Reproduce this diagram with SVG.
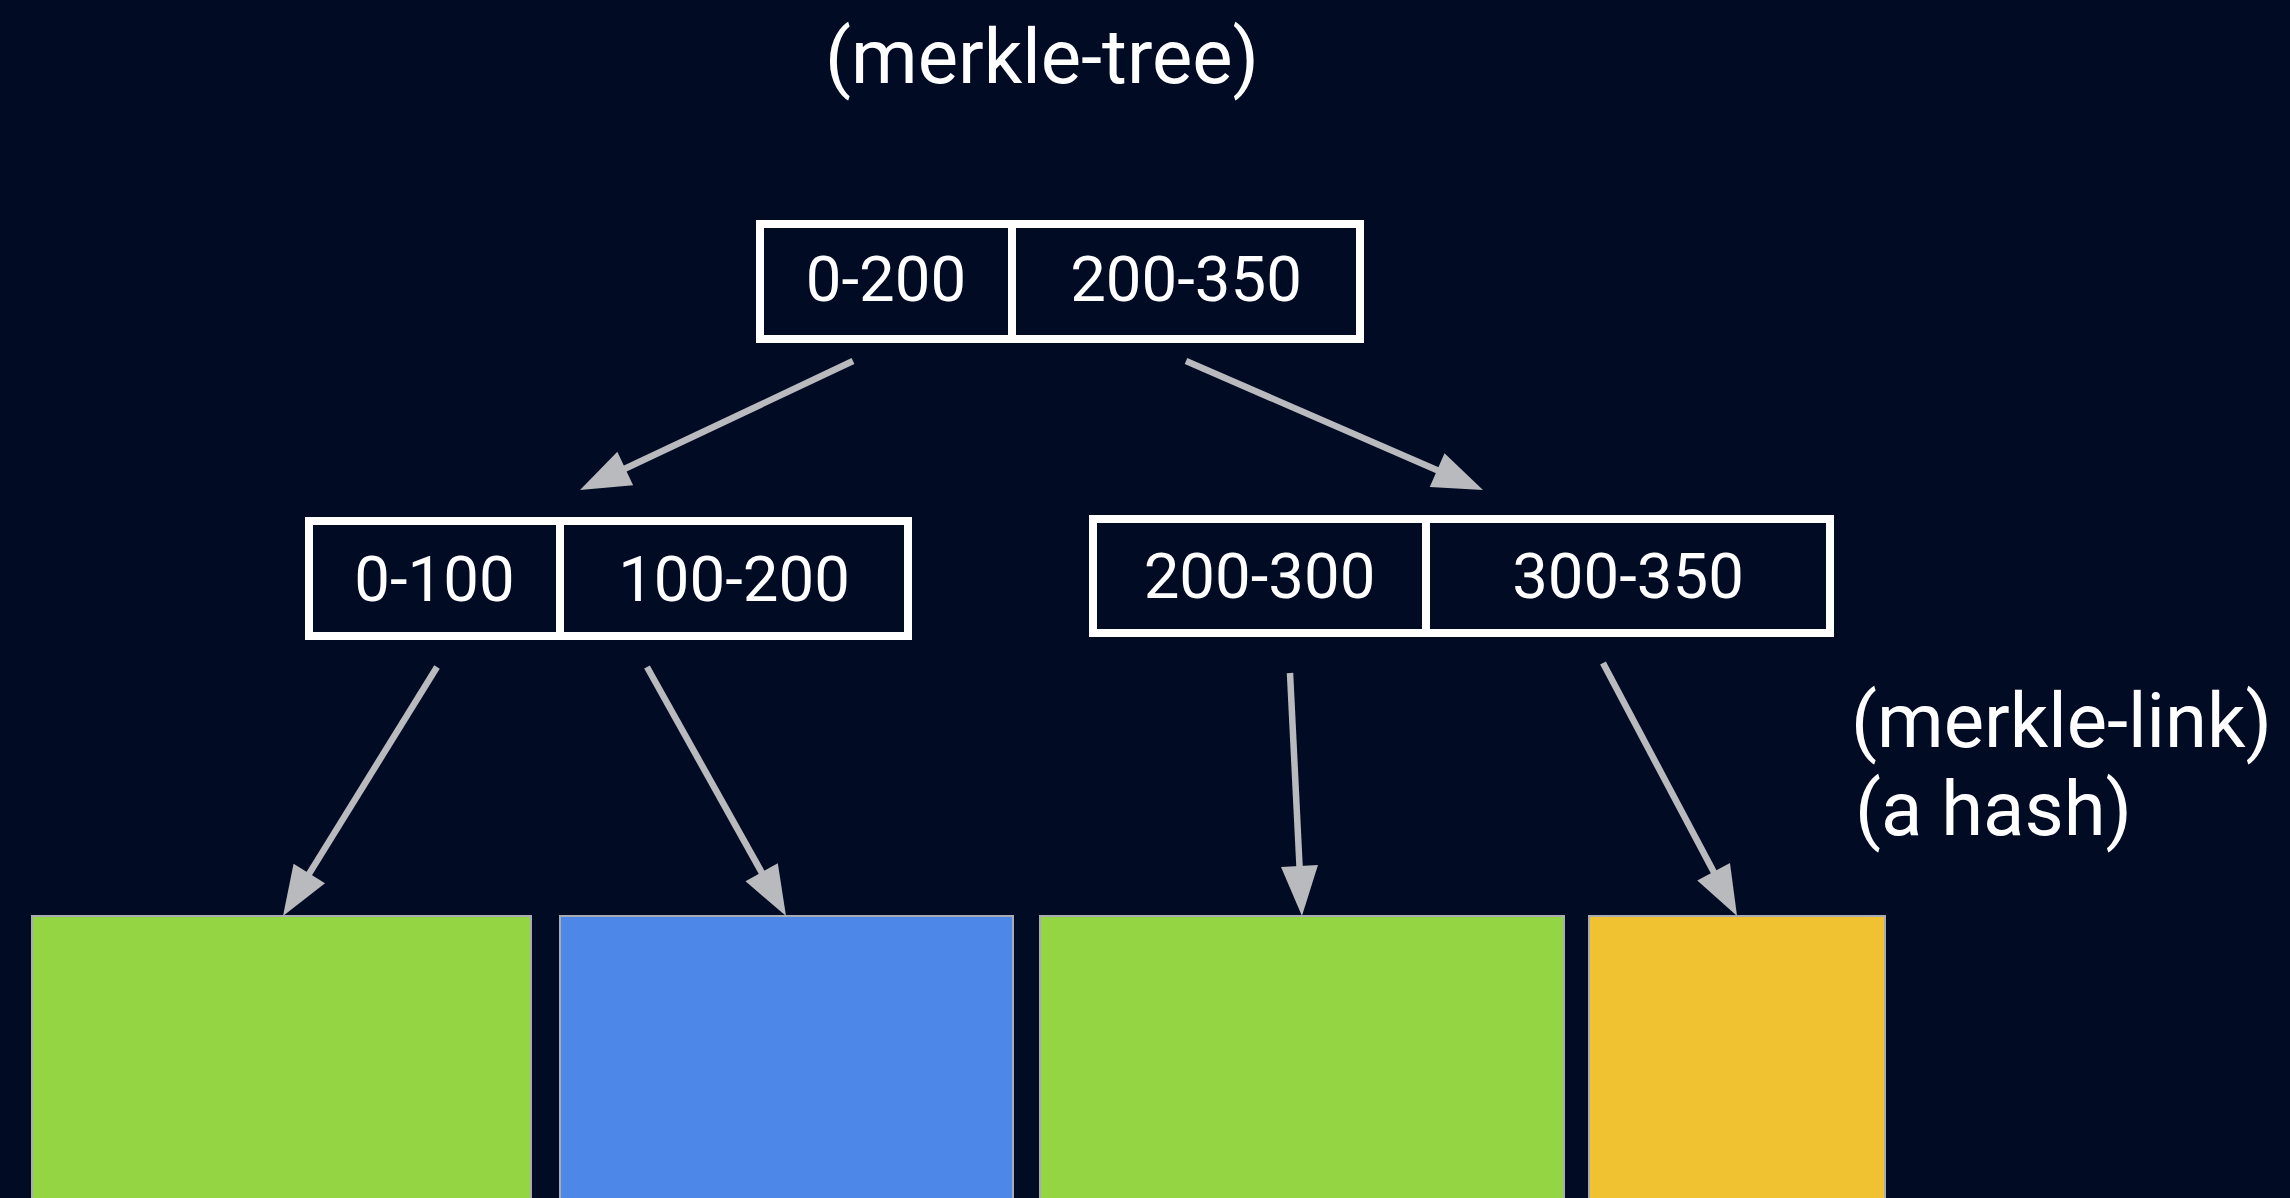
<svg xmlns="http://www.w3.org/2000/svg" width="2290" height="1198" viewBox="0 0 2290 1198">
<style>
.bg{fill:#020b24}
.box{fill:#020b24;stroke:#ffffff;stroke-width:8}
.div{stroke:#ffffff;stroke-width:8}
.lbl{font-family:Roboto,"Liberation Sans",sans-serif;font-size:63.5px;fill:#ffffff;text-anchor:middle}
.note{font-family:Roboto,"Liberation Sans",sans-serif;font-size:76px;fill:#ffffff}
.edge{stroke:#b9babd;stroke-width:6.5;fill:none}
.leaf{stroke:#a8acb2;stroke-width:2}
</style>
<defs>
<marker id="arr" markerUnits="userSpaceOnUse" viewBox="-5 -20 55 40" markerWidth="55" markerHeight="40" refX="0" refY="0" orient="auto">
<path d="M-4,-18.5 L46,0 L-4,18.5 z" fill="#b9babd"/>
</marker>
</defs>
<rect class="bg" x="0" y="0" width="2290" height="1198"/>
<text class="note" x="1042" y="83" text-anchor="middle">(merkle-tree)</text>
<g id="root">
<rect class="box" x="760" y="224" width="600" height="115"/>
<line class="div" x1="1012" y1="224" x2="1012" y2="339"/>
<text class="lbl" x="886" y="301">0-200</text>
<text class="lbl" x="1186" y="301">200-350</text>
</g>
<g id="left">
<rect class="box" x="309" y="521" width="599" height="115"/>
<line class="div" x1="560" y1="521" x2="560" y2="636"/>
<text class="lbl" x="434.5" y="601">0-100</text>
<text class="lbl" x="734" y="601">100-200</text>
</g>
<g id="right">
<rect class="box" x="1093" y="519" width="737" height="114"/>
<line class="div" x1="1426" y1="519" x2="1426" y2="633"/>
<text class="lbl" x="1259.5" y="598">200-300</text>
<text class="lbl" x="1628" y="598">300-350</text>
</g>
<g id="leaf1"><rect class="leaf" x="32" y="916" width="499" height="290" fill="#94d543"/></g>
<g id="leaf2"><rect class="leaf" x="560" y="916" width="453" height="290" fill="#4d88e8"/></g>
<g id="leaf3"><rect class="leaf" x="1040" y="916" width="524" height="290" fill="#94d543"/></g>
<g id="leaf4"><rect class="leaf" x="1589" y="916" width="296" height="290" fill="#f0c232"/></g>
<g id="hash-label">
<text class="note" x="1851" y="747">(merkle-link)</text>
<text class="note" x="1855" y="835">(a hash)</text>
</g>
<g id="connectors">
<line class="edge" x1="853" y1="361" x2="621.6" y2="470.3" marker-end="url(#arr)"/>
<line class="edge" x1="1186" y1="361" x2="1440.8" y2="471.7" marker-end="url(#arr)"/>
<line class="edge" x1="437" y1="667" x2="307.2" y2="876.9" marker-end="url(#arr)"/>
<line class="edge" x1="647" y1="667" x2="763.6" y2="875.8" marker-end="url(#arr)"/>
<line class="edge" x1="1290" y1="673" x2="1299.7" y2="870" marker-end="url(#arr)"/>
<line class="edge" x1="1603" y1="663" x2="1715.5" y2="875.3" marker-end="url(#arr)"/>
</g>
</svg>
